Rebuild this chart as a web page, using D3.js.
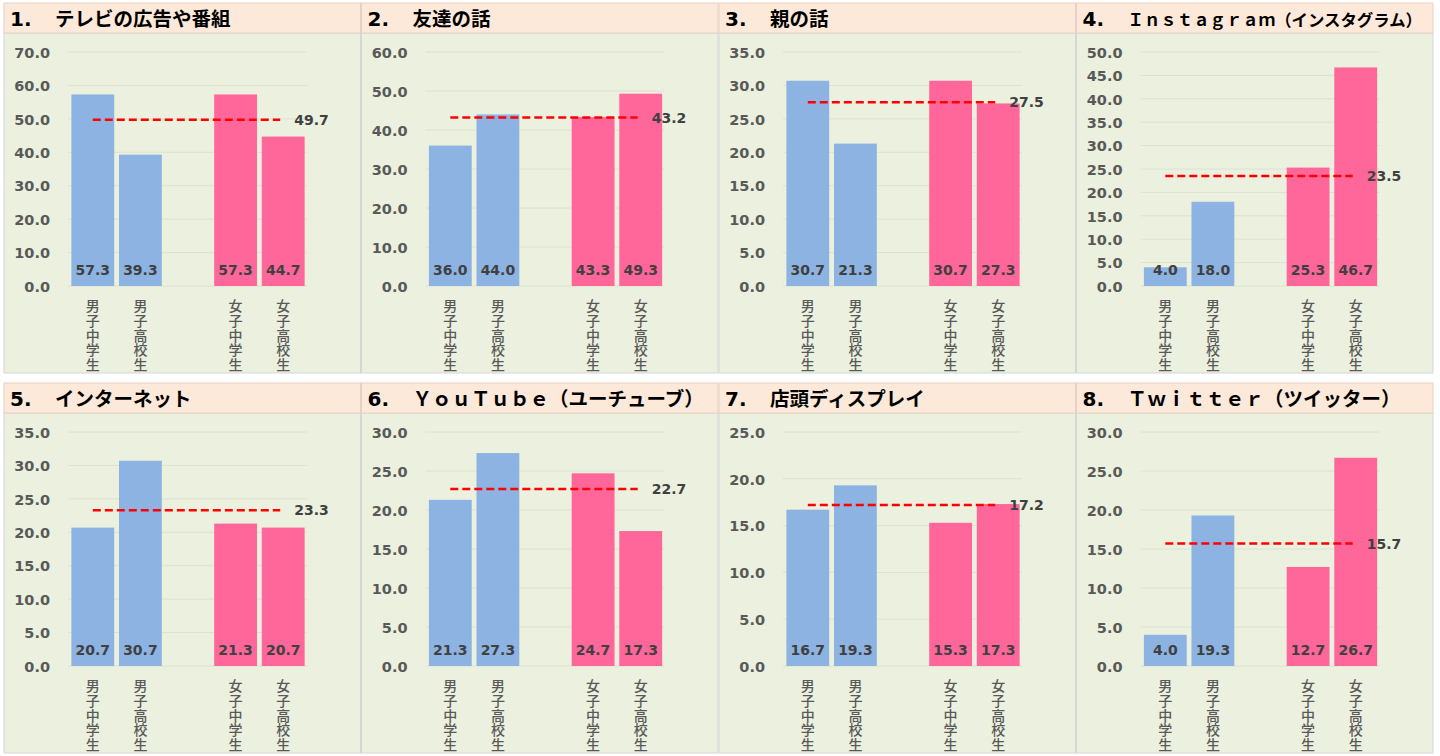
<!DOCTYPE html>
<html><head><meta charset="utf-8">
<script src="https://cdn.jsdelivr.net/npm/d3@7"></script>
<style>
html,body{margin:0;padding:0;background:#fff;}
svg{display:block;}
.yax text{font-family:'DejaVu Sans',Verdana,sans-serif !important;font-weight:bold !important;font-size:14.5px !important;fill:#595959;}
.vlab{writing-mode:vertical-rl;text-orientation:upright;}
</style></head>
<body>
<svg id="chart" width="1440" height="756"></svg>
<script>
const categories = ["男子中学生", "男子高校生", "_gap", "女子中学生", "女子高校生"];
const groups = ["male", "male", "gap", "female", "female"];
const titleNums = ["1.", "2.", "3.", "4.", "5.", "6.", "7.", "8."];
const titles = ["テレビの広告や番組", "友達の話", "親の話", "Ｉｎｓｔａｇｒａｍ（インスタグラム）",
  "インターネット", "ＹｏｕＴｕｂｅ（ユーチューブ）", "店頭ディスプレイ", "Ｔｗｉｔｔｅｒ（ツイッター）"];
const values1 = [57.3, 39.3, 57.3, 44.7];
const values2 = [36.0, 44.0, 43.3, 49.3];
const values3 = [30.7, 21.3, 30.7, 27.3];
const values4 = [4.0, 18.0, 25.3, 46.7];
const values5 = [20.7, 30.7, 21.3, 20.7];
const values6 = [21.3, 27.3, 24.7, 17.3];
const values7 = [16.7, 19.3, 15.3, 17.3];
const values8 = [4.0, 19.3, 12.7, 26.7];
const averages = [49.7, 43.2, 27.5, 23.5, 23.3, 22.7, 17.2, 15.7];
const yMax = [70, 60, 35, 50, 35, 30, 25, 30];
const yStep = [10, 10, 5, 5, 5, 5, 5, 5];
const allValues = [values1, values2, values3, values4, values5, values6, values7, values8];
const barCats = ["男子中学生", "男子高校生", "女子中学生", "女子高校生"];
const colors = {male: "#8db3e2", female: "#ff6699"};

const svg = d3.select("#chart");
const panelW = 357.5, rowY = [3, 383];
const numFont = "'DejaVu Sans', Verdana, sans-serif";
const jpFont = "'Noto Sans CJK JP', sans-serif";

allValues.forEach((vals, i) => {
  const col = i % 4, row = Math.floor(i / 4);
  const x0 = 4 + col * panelW, y0 = rowY[row];
  const g = svg.append("g");
  g.append("rect").attr("x", x0).attr("y", y0 + 30).attr("width", panelW - 1).attr("height", 340)
    .attr("fill", "#ebf1de").attr("stroke", "#d6d6d6").attr("stroke-width", 1);
  g.append("rect").attr("x", x0).attr("y", y0).attr("width", panelW - 1).attr("height", 30)
    .attr("fill", "#fde9d9").attr("stroke", "#e6d2c4").attr("stroke-width", 1);
  g.append("text").attr("x", x0 + 6).attr("y", y0 + 23)
    .style("font-family", numFont).style("font-weight", "bold")
    .style("font-size", "20px").attr("fill", "#000").text(titleNums[i]);
  const tt = g.append("text").attr("x", x0 + 51).attr("y", y0 + 23)
    .style("font-family", jpFont).style("font-weight", "bold")
    .style("font-size", "19.5px").attr("fill", "#000").text(titles[i]);
  const avail = panelW - 51 - 12;
  const len = tt.node().getComputedTextLength();
  if (len > avail) tt.style("font-size", (19.5 * avail / len).toFixed(2) + "px");

  const y = d3.scaleLinear().domain([0, yMax[i]]).range([y0 + 283, y0 + 49]);
  const x = d3.scaleBand().domain(categories).range([x0 + 65, x0 + 303]).paddingInner(0.1).paddingOuter(0.05);
  const ticks = d3.range(0, yMax[i] + 0.001, yStep[i]);

  g.append("g").selectAll("line").data(ticks).join("line")
    .attr("x1", x0 + 64).attr("x2", x0 + 303)
    .attr("y1", d => y(d)).attr("y2", d => y(d))
    .attr("stroke", "#dbe2cd").attr("stroke-width", 1);

  const ax = g.append("g").attr("class", "yax").attr("transform", `translate(${x0 + 46},0)`)
    .call(d3.axisLeft(y).tickValues(ticks).tickFormat(d3.format(".1f")).tickSize(0).tickPadding(0));
  ax.select(".domain").remove();
  ax.attr("font-family", null).attr("font-size", null);
  ax.selectAll("text").attr("font-size", 14.5).attr("font-weight", "bold").attr("fill", "#595959").attr("dy", "0.36em");

  const data = barCats.map((c, k) => ({c, v: vals[k], grp: groups[categories.indexOf(c)]}));
  g.append("g").selectAll("rect").data(data).join("rect")
    .attr("x", d => x(d.c)).attr("width", x.bandwidth())
    .attr("y", d => y(d.v)).attr("height", d => y(0) - y(d.v))
    .attr("fill", d => colors[d.grp]);

  g.append("g").selectAll("text").data(data).join("text")
    .attr("x", d => x(d.c) + x.bandwidth() / 2).attr("y", y(0) - 11)
    .attr("text-anchor", "middle")
    .style("font-family", numFont).style("font-weight", "bold")
    .style("font-size", "14px").attr("fill", "#404040").text(d => d3.format(".1f")(d.v));

  const xs = x(barCats[0]) + x.bandwidth() / 2, xe = x(barCats[3]) + x.bandwidth() / 2 - 3;
  g.append("line").attr("x1", xs).attr("x2", xe)
    .attr("y1", y(averages[i])).attr("y2", y(averages[i]))
    .attr("stroke", "#ff0000").attr("stroke-width", 2.5).attr("stroke-dasharray", "8,4");
  g.append("text").attr("x", xe + 14).attr("y", y(averages[i])).attr("dy", "0.36em")
    .style("font-family", numFont).style("font-weight", "bold")
    .style("font-size", "14px").attr("fill", "#404040").text(d3.format(".1f")(averages[i]));

  g.append("g").selectAll("text").data(barCats).join("text")
    .attr("class", "vlab")
    .attr("x", d => x(d) + x.bandwidth() / 2).attr("y", y0 + 296)
    .style("font-family", jpFont).style("font-size", "14px").style("font-weight", "500")
    .style("letter-spacing", "0.6px")
    .attr("fill", "#595959").text(d => d);
});
</script>
</body></html>
